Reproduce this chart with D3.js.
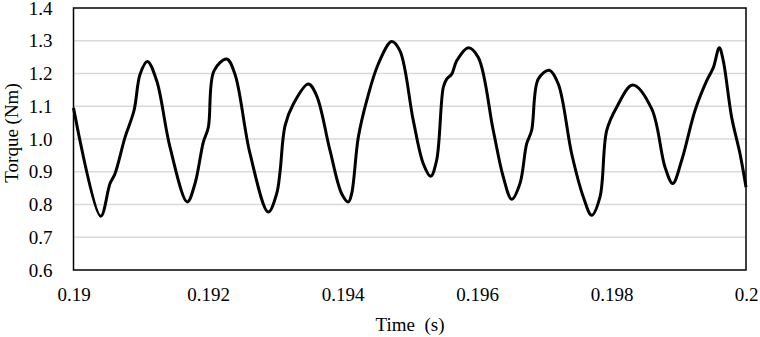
<!DOCTYPE html>
<html>
<head>
<meta charset="utf-8">
<script src="https://cdn.jsdelivr.net/npm/d3@7"></script>
<style>
  html, body { margin: 0; padding: 0; background: #fff; }
  svg { display: block; }
</style>
</head>
<body>
<div id="chart"></div>
<script>
(function () {
  "use strict";

  // Torque trace
  const time = [
    0.19, 0.190404, 0.190543, 0.190617, 0.190766, 0.1909, 0.19099, 0.191098,
    0.191237, 0.191435, 0.191692, 0.191807, 0.19193, 0.192005, 0.192089, 0.192278,
    0.192401, 0.192625, 0.192897, 0.193021, 0.193071, 0.193145, 0.193269, 0.193492,
    0.193616, 0.193814, 0.193988, 0.194087, 0.194136, 0.194235, 0.19436, 0.194532,
    0.194731, 0.194855, 0.195053, 0.195202, 0.195311, 0.1954, 0.195499, 0.195549,
    0.195624, 0.195698, 0.195871, 0.19602, 0.196242, 0.196391, 0.196516, 0.196639,
    0.196738, 0.196812, 0.196911, 0.197075, 0.197209, 0.197408, 0.197581, 0.197705,
    0.197829, 0.197929, 0.198077, 0.198315, 0.198598, 0.198796, 0.19891, 0.199044,
    0.199242, 0.199416, 0.199514, 0.199603, 0.199662, 0.199787, 0.199911, 0.2
  ];
  const torque = [
    1.095, 0.764, 0.864, 0.894, 1.005, 1.087, 1.198, 1.237,
    1.178, 0.975, 0.808, 0.864, 0.99, 1.036, 1.208, 1.244,
    1.198, 0.955, 0.777, 0.833, 0.9, 1.040, 1.107, 1.168,
    1.132, 0.965, 0.833, 0.808, 0.833, 1.005, 1.117, 1.229,
    1.298, 1.269, 1.056, 0.924, 0.886, 0.935, 1.158, 1.183,
    1.198, 1.239, 1.279, 1.249, 1.026, 0.884, 0.816, 0.864,
    0.985, 1.026, 1.183, 1.21, 1.168, 0.955, 0.823, 0.767,
    0.823, 1.026, 1.097, 1.165, 1.092, 0.914, 0.864, 0.935,
    1.087, 1.178, 1.218, 1.279, 1.239, 1.066, 0.955, 0.853
  ];

  const xTicks = [0.19, 0.192, 0.194, 0.196, 0.198, 0.2];
  const yTicks = [0.6, 0.7, 0.8, 0.9, 1.0, 1.1, 1.2, 1.3, 1.4];
  const xLabels = ["0.19", "0.192", "0.194", "0.196", "0.198", "0.2"];
  const yLabels = ["0.6", "0.7", "0.8", "0.9", "1.0", "1.1", "1.2", "1.3", "1.4"];

  const W = 760, H = 337;
  const margin = { left: 73.5, right: 14, top: 8, bottom: 67 };
  const FONT = '"Liberation Serif", "Times New Roman", serif';
  const FS = "19px";

  const x = d3.scaleLinear().domain([0.19, 0.2]).range([margin.left, W - margin.right]);
  const y = d3.scaleLinear().domain([0.6, 1.4]).range([H - margin.bottom, margin.top]);

  const svg = d3.select("#chart").append("svg")
    .attr("width", W).attr("height", H)
    .attr("viewBox", `0 0 ${W} ${H}`);

  // Gridlines
  svg.append("g")
    .selectAll("line")
    .data(yTicks.slice(1, -1))
    .enter().append("line")
    .attr("x1", x.range()[0]).attr("x2", x.range()[1])
    .attr("y1", (d) => y(d)).attr("y2", (d) => y(d))
    .attr("stroke", "#d9d9d9")
    .attr("stroke-width", 1.5);

  // Data line
  const data = time.map((t, i) => ({ t: t, v: torque[i] }));
  const line = d3.line()
    .x((d) => x(d.t))
    .y((d) => y(d.v))
    .curve(d3.curveCatmullRom.alpha(0.5));

  svg.append("path")
    .datum(data)
    .attr("d", line)
    .attr("fill", "none")
    .attr("stroke", "#000")
    .attr("stroke-width", 3)
    .attr("stroke-linejoin", "round");

  // Plot frame
  svg.append("rect")
    .attr("x", x.range()[0]).attr("y", y.range()[1])
    .attr("width", x.range()[1] - x.range()[0])
    .attr("height", y.range()[0] - y.range()[1])
    .attr("fill", "none")
    .attr("stroke", "#000")
    .attr("stroke-width", 1.5);

  // Y axis labels
  const gy = svg.append("g")
    .attr("transform", `translate(${margin.left},0)`)
    .call(d3.axisLeft(y)
      .tickValues(yTicks)
      .tickSize(0)
      .tickPadding(21)
      .tickFormat((d, i) => yLabels[i]));
  gy.select(".domain").remove();

  // X axis labels
  const gx = svg.append("g")
    .attr("transform", `translate(0,${H - margin.bottom})`)
    .call(d3.axisBottom(x)
      .tickValues(xTicks)
      .tickSize(0)
      .tickPadding(18)
      .tickFormat((d, i) => xLabels[i]));
  gx.select(".domain").remove();

  // Axis titles
  svg.append("text")
    .attr("x", 410).attr("y", 331)
    .attr("text-anchor", "middle")
    .style("white-space", "pre")
    .text("Time  (s)");

  svg.append("text")
    .attr("transform", "translate(18,133) rotate(-90)")
    .attr("text-anchor", "middle")
    .text("Torque (Nm)");

  svg.selectAll("text")
    .style("font-family", FONT)
    .style("font-size", FS)
    .attr("fill", "#000");
})();
</script>
</body>
</html>
